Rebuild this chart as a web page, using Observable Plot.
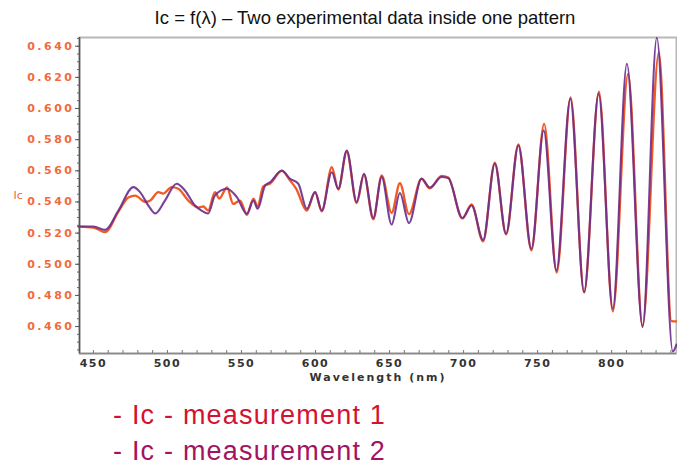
<!DOCTYPE html>
<html>
<head>
<meta charset="utf-8">
<script src="https://cdn.jsdelivr.net/npm/d3@7"></script>
<script src="https://cdn.jsdelivr.net/npm/@observablehq/plot@0.6"></script>
<style>
  html, body { margin: 0; padding: 0; background: #fff; }
  #title { height: 31px; box-sizing: border-box; padding-top: 7.5px; padding-left: 53px; text-align: center; font: 18.5px/20px "Liberation Sans", Arial, sans-serif; color: #111; width: 677px; white-space: nowrap; }
  #chart svg { display: block; }
  #chart g[aria-label="y-axis tick label"] text { letter-spacing: 2.5px; }
  #chart g[aria-label="x-axis tick label"] text { letter-spacing: 1.5px; }
  #chart text.xlabel { letter-spacing: 2px; }
  #legend { margin-top: 8px; padding-left: 113px; font: 27px/36px "Liberation Sans", Arial, sans-serif; letter-spacing: 1.2px; }
</style>
</head>
<body>
<div id="title">Ic = f(λ) – Two experimental data inside one pattern</div>
<div id="chart"></div>
<div id="legend">
  <div style="color:#d3122f">- Ic - measurement 1</div>
  <div style="color:#a3135f">- Ic - measurement 2</div>
</div>
<script>
// Measurement 1 (orange)
const wl1 = [439.9,450.0,457.9,466.9,473.6,478.3,484.9,488.4,493.8,497.2,502.8,507.3,514.1,520.8,524.2,527.5,532.1,535.0,540.2,544.4,549.1,553.6,558.1,560.9,564.6,569.4,577.2,582.8,586.9,594.1,599.7,604.2,611.0,615.4,621.1,627.8,632.7,639.0,644.7,651.4,657.0,663.1,671.6,677.2,685.1,689.6,699.2,705.4,713.2,721.1,728.7,737.0,745.8,754.4,762.9,772.3,781.4,791.4,800.8,811.1,820.9,831.9,840.4,843.8];
const ic1 = [0.5242,0.5236,0.5206,0.5338,0.5429,0.5441,0.5400,0.5409,0.5463,0.5454,0.5495,0.5485,0.5409,0.5364,0.5371,0.5345,0.5463,0.5422,0.5493,0.5388,0.5409,0.5318,0.5422,0.5371,0.5499,0.5519,0.5599,0.5538,0.5486,0.5345,0.5463,0.5339,0.5623,0.5480,0.5724,0.5392,0.5576,0.5288,0.5570,0.5330,0.5520,0.5322,0.5549,0.5487,0.5567,0.5557,0.5294,0.5384,0.5147,0.5653,0.5192,0.5769,0.5089,0.5902,0.4947,0.6071,0.4819,0.6109,0.4697,0.6223,0.4607,0.6361,0.4635,0.4633];
// Measurement 2 (purple)
const wl2 = [439.9,450.0,457.9,466.9,477.0,481.5,487.1,491.8,498.3,506.2,511.8,518.6,523.0,527.5,532.1,540.2,546.9,553.6,558.1,560.9,566.0,569.4,577.2,582.8,588.4,594.1,599.7,604.2,611.0,615.4,621.1,627.8,632.7,639.0,644.7,651.4,657.0,663.1,671.6,677.2,685.1,689.6,699.2,705.4,713.2,721.1,728.7,737.0,745.8,754.1,762.7,772.1,781.4,791.2,800.8,810.3,820.9,830.5,841.3,843.8];
const ic2 = [0.5242,0.5242,0.5221,0.5345,0.5495,0.5463,0.5377,0.5326,0.5409,0.5517,0.5474,0.5377,0.5345,0.5326,0.5442,0.5485,0.5431,0.5324,0.5409,0.5356,0.5506,0.5527,0.5602,0.5549,0.5517,0.5356,0.5463,0.5345,0.5591,0.5485,0.5730,0.5400,0.5581,0.5297,0.5560,0.5255,0.5458,0.5265,0.5549,0.5493,0.5560,0.5554,0.5297,0.5377,0.5156,0.5645,0.5196,0.5763,0.5100,0.5859,0.4960,0.6062,0.4821,0.6094,0.4714,0.6287,0.4596,0.6454,0.4440,0.4485];

const xTicks = [450, 500, 550, 600, 650, 700, 750, 800];
const yTicks = [0.46, 0.48, 0.50, 0.52, 0.54, 0.56, 0.58, 0.60, 0.62, 0.64];
const xMinor = d3.range(450, 841, 10);
const yMinor = d3.range(0.445, 0.6451, 0.005);

const m1 = wl1.map((x, i) => ({x, y: ic1[i]}));
const m2 = wl2.map((x, i) => ({x, y: ic2[i]}));

const tickFont = {fontFamily: "DejaVu Sans", fontWeight: "bold", fontSize: 11};

const chart = Plot.plot({
  width: 677,
  height: 358,
  marginTop: 6,
  marginBottom: 36,
  marginLeft: 79,
  marginRight: 1,
  x: {domain: [440.6, 843.8]},
  y: {domain: [0.4427, 0.6456]},
  style: {background: "transparent", overflow: "visible"},
  marks: [
    Plot.frame({stroke: "#b8b8b8", strokeWidth: 2}),
    Plot.line(m1, {x: "x", y: "y", stroke: "#f15a24", strokeWidth: 2.3, curve: "monotone-x"}),
    Plot.line(m2, {x: "x", y: "y", stroke: "#6a2d8e", strokeWidth: 2.1, strokeOpacity: 0.9, curve: "monotone-x"}),
    Plot.ruleX([440.6], {stroke: "#555", strokeWidth: 1.5}),
    Plot.ruleY([0.4427], {stroke: "#888", strokeWidth: 1.5}),
    Plot.axisY(yMinor, {tickSize: 2, text: null, stroke: "#666", label: null}),
    Plot.axisY(yTicks, {tickSize: 4, tickPadding: 1, tickFormat: d3.format(".3f"), fill: "#f26a3c", stroke: "#555", label: null, ...tickFont}),
    Plot.axisX(xMinor, {tickSize: -3, text: null, stroke: "#777", label: null}),
    Plot.axisX(xTicks, {tickSize: 0, tickPadding: 6, fill: "#333", label: null, ...tickFont}),
    Plot.text(["Wavelength (nm)"], {frameAnchor: "bottom", dy: 27, fill: "#333", ...tickFont}),
    Plot.text(["Ic"], {frameAnchor: "left", dx: -66, fill: "#f06a40", fontFamily: "DejaVu Sans", fontSize: 11})
  ]
});
d3.select(chart).selectAll("text").filter(function() { return this.textContent === "Wavelength (nm)"; }).classed("xlabel", true);
document.getElementById("chart").appendChild(chart);
</script>
</body>
</html>
